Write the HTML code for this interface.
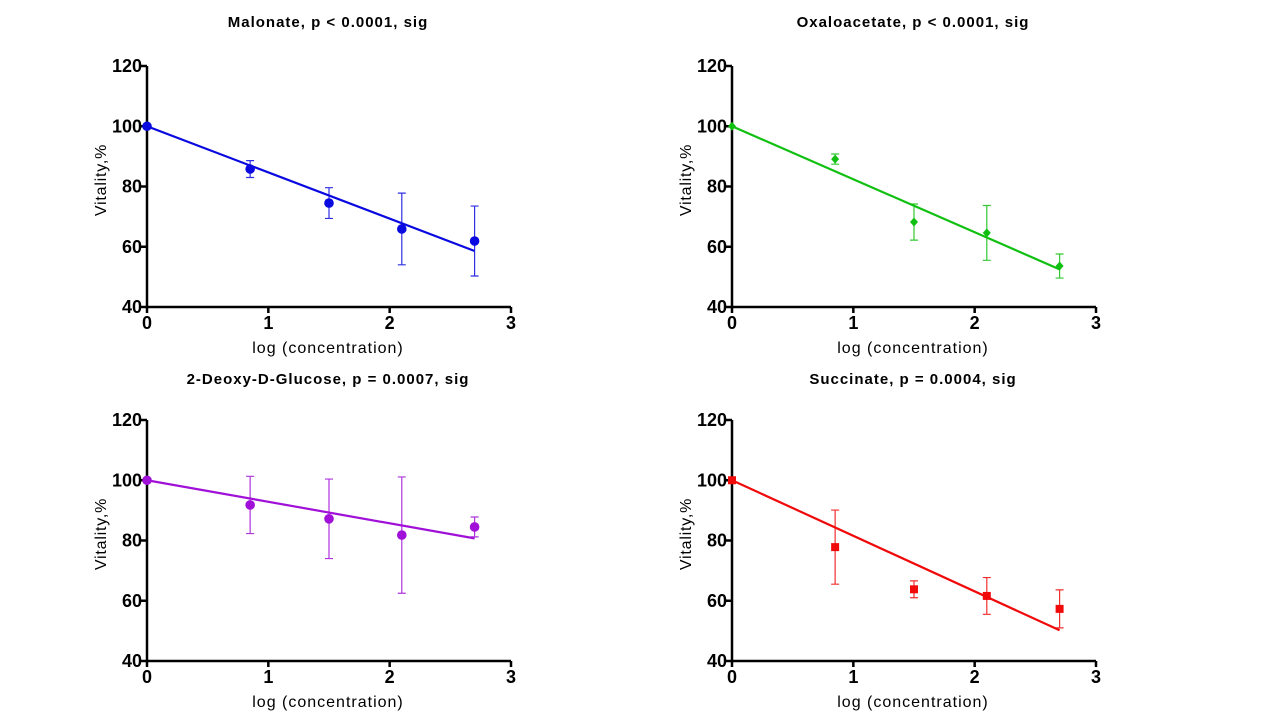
<!DOCTYPE html>
<html><head><meta charset="utf-8"><style>
html,body{margin:0;padding:0;background:#fff;}
svg{display:block;font-family:"Liberation Sans",Arial,sans-serif;}
</style></head><body>
<svg id="s" width="1280" height="720" viewBox="0 0 1280 720"></svg>
<script>
const xs = [0, 0.85, 1.5, 2.1, 2.7];
const titles = ["Malonate,  p < 0.0001, sig", "Oxaloacetate, p < 0.0001, sig", "2-Deoxy-D-Glucose, p = 0.0007, sig", "Succinate, p = 0.0004, sig"];
const colors = ["#0a0ae0", "#10c010", "#a010d8", "#f00a0a"];
const markers = ["circle", "diamond", "circle", "square"];
const malonateY = [100, 85.8, 74.5, 65.9, 61.9];
const malonateErr = [0, 2.8, 5.1, 11.9, 11.6];
const oxaloY = [100, 89.1, 68.2, 64.6, 53.6];
const oxaloErr = [0, 1.7, 6.0, 9.1, 4.0];
const deoxyY = [100, 91.8, 87.2, 81.8, 84.5];
const deoxyErr = [0, 9.5, 13.2, 19.3, 3.3];
const succY = [100, 77.8, 63.8, 61.6, 57.3];
const succErr = [0, 12.3, 2.8, 6.1, 6.3];
const fitEnd = [58.6, 52.5, 80.7, 50.2];
const xTicks = [0, 1, 2, 3];
const yTicks = [40, 60, 80, 100, 120];
const series = [[malonateY, malonateErr], [oxaloY, oxaloErr], [deoxyY, deoxyErr], [succY, succErr]];
const panelNames = ["malonate", "oxaloacetate", "deoxy-glucose", "succinate"];
const origins = [[147, 66], [732, 66], [147, 420], [732, 420]];
const NS = "http://www.w3.org/2000/svg";
const svg = document.getElementById("s");
function mk(tag, attrs, parent, text) {
  const e = document.createElementNS(NS, tag);
  for (const k in attrs) e.setAttribute(k, attrs[k]);
  if (text !== undefined) e.textContent = text;
  parent.appendChild(e);
  return e;
}
series.forEach((sr, i) => {
  const [ox, oy] = origins[i];
  const W = 364, H = 241;
  const X = v => ox + v / 3 * W;
  const Y = v => oy + (120 - v) / 80 * H;
  const c = colors[i];
  const g = mk("g", {}, svg);
  
  
  const t = mk("text", {x: ox + 181, y: oy - (i < 2 ? 39 : 36), "text-anchor": "middle", "font-size": 15, "font-weight": "bold", "letter-spacing": 1}, g, titles[i]);
  
  
  const ax = mk("path", {d: `M${ox} ${oy}V${oy + H}H${ox + W}`, stroke: "#000", "stroke-width": 2.5, fill: "none"}, g);
  
  
  yTicks.forEach(v => {
    mk("line", {x1: ox - 6, x2: ox, y1: Y(v), y2: Y(v), stroke: "#000", "stroke-width": 2.5}, g);
    const tl = mk("text", {x: ox - 5, y: Y(v) + 6, "text-anchor": "end", "font-size": 18, "font-weight": "bold"}, g, v);
    
    
  });
  xTicks.forEach(v => {
    mk("line", {x1: X(v), x2: X(v), y1: oy + H, y2: oy + H + 6, stroke: "#000", "stroke-width": 2.5}, g);
    const tl = mk("text", {x: X(v), y: oy + H + 22, "text-anchor": "middle", "font-size": 18, "font-weight": "bold"}, g, v);
    
    
  });
  const xl = mk("text", {x: ox + 181, y: oy + H + 46, "text-anchor": "middle", "font-size": 16, "letter-spacing": 1}, g, "log (concentration)");
  
  
  const yl = mk("text", {x: 0, y: 0, "text-anchor": "middle", "font-size": 16, "letter-spacing": 0.8, transform: `translate(${ox - 41},${oy + 114}) rotate(-90)`}, g, "Vitality,%");
  
  
  const fl = mk("line", {x1: X(0), y1: Y(100), x2: X(2.7), y2: Y(fitEnd[i]), stroke: c, "stroke-width": 2.2}, g);
  
  
  xs.forEach((xv, j) => {
    const yv = sr[0][j], e = sr[1][j];
    if (e > 0) {
      const eb = mk("path", {d: `M${X(xv)} ${Y(yv + e)}V${Y(yv - e)}M${X(xv) - 4} ${Y(yv + e)}h8M${X(xv) - 4} ${Y(yv - e)}h8`, stroke: c, "stroke-width": 1.2, fill: "none", opacity: 0.85}, g);
      
      
    }
    let m;
    if (markers[i] === "circle") m = mk("circle", {cx: X(xv), cy: Y(yv), r: 4.8, fill: c}, g);
    else if (markers[i] === "square") m = mk("rect", {x: X(xv) - 4, y: Y(yv) - 4, width: 8, height: 8, fill: c}, g);
    else m = mk("path", {d: `M${X(xv)} ${Y(yv) - 4.5}l4 4.5l-4 4.5l-4 -4.5z`, fill: c}, g);
    
    
  });
});
</script>
</body></html>
